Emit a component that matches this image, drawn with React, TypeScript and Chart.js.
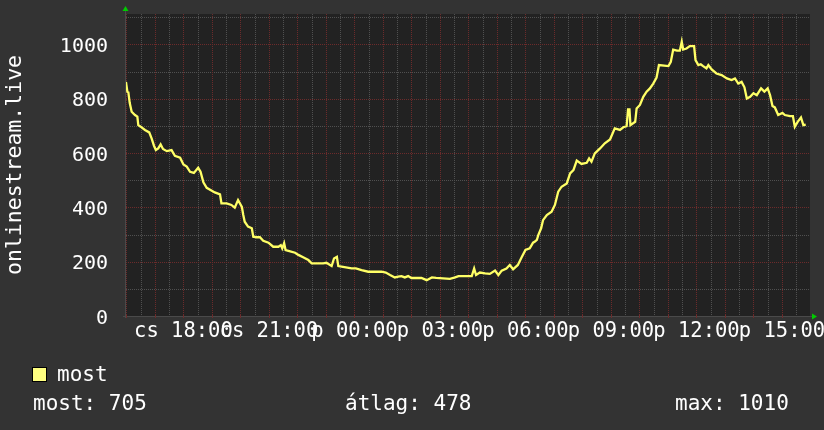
import React, { useEffect, useRef } from "react";
import { Chart, registerables } from "chart.js";

Chart.register(...registerables);

// Time axis: minutes relative to "cs 18:00" (Thursday 18:00)
const BASE_MINUTE = 18 * 60;
const DAY_PREFIXES = ["cs", "p"];
const X_START_OFFSET = -123;
const X_END_OFFSET = 1319;

const minuteOffsets = [
  -121, -118, -116, -113, -109, -102, -97, -95, -90, -81, -72, -67, -62, -58, -53, -48, -43, -35, -25, -18,
  -7, 0, 7, 14, 22, 31, 36, 42, 49, 57, 66, 77, 80, 91, 101, 108, 115, 123, 126, 129,
  136, 144, 147, 154, 161, 168, 179, 189, 200, 205, 208, 212, 215, 221, 235, 242, 252, 263, 270, 294,
  301, 312, 317, 323, 326, 336, 354, 363, 375, 389, 417, 426, 435, 445, 452, 459, 466, 473, 480, 501,
  512, 523, 532, 561, 572, 579, 607, 612, 616, 624, 635, 645, 656, 663, 670, 680, 687, 694, 704, 712,
  720, 729, 736, 740, 744, 747, 753, 757, 765, 775, 782, 789, 796, 807, 814, 821, 828, 838, 849, 854,
  859, 866, 877, 887, 898, 908, 919, 926, 933, 936, 939, 941, 951, 954, 961, 968, 975, 982, 989, 996,
  1001, 1021, 1026, 1031, 1039, 1045, 1049, 1052, 1059, 1066, 1075, 1078, 1084, 1089, 1094, 1101, 1105, 1112, 1122, 1133,
  1144, 1154, 1161, 1168, 1175, 1181, 1186, 1193, 1200, 1207, 1216, 1223, 1230, 1235, 1240, 1245, 1252, 1261, 1266, 1277,
  1283, 1287, 1293, 1300, 1305, 1310,
];

const viewerCounts = [
  862, 826, 824, 784, 752, 740, 734, 703, 697, 685, 676, 654, 627, 611, 617, 632, 615, 607, 611, 590,
  583, 558, 550, 531, 527, 546, 531, 492, 472, 464, 455, 448, 415, 415, 409, 399, 427, 402, 372, 347,
  329, 323, 292, 290, 290, 277, 270, 255, 255, 261, 249, 268, 243, 240, 233, 225, 216, 206, 194, 194,
  196, 184, 212, 218, 184, 181, 175, 175, 169, 163, 163, 160, 151, 142, 145, 147, 142, 147, 140, 140,
  132, 142, 140, 137, 142, 147, 147, 175, 151, 160, 157, 155, 167, 151, 167, 175, 188, 172, 188, 216,
  243, 249, 270, 274, 280, 298, 323, 353, 372, 384, 409, 458, 476, 488, 525, 537, 572, 560, 564, 580,
  568, 599, 617, 636, 650, 691, 685, 695, 699, 761, 761, 703, 715, 764, 777, 807, 826, 838, 856, 878,
  924, 920, 936, 981, 977, 977, 1010, 981, 985, 994, 994, 942, 924, 927, 920, 912, 924, 908, 893, 887,
  875, 869, 875, 856, 862, 842, 801, 807, 820, 813, 838, 826, 838, 813, 773, 768, 740, 748, 740, 736,
  736, 697, 715, 731, 703, 705,
];

const Y_MAX = 1112;
const Y_STEP = 100;
const Y_LABEL_STEP = 200;
const yTickLabels = [0, 200, 400, 600, 800, 1000];
const X_STEP = 30;
const X_MAJOR_STEP = 60;
const X_LABEL_STEP = 180;
const AXIS_TITLE = "onlinestream.live";
const LEGEND_LABEL = "most";
const statNames = ["most", "átlag", "max"];
const statValues = [705, 478, 1010];

const FONT = "'DejaVu Sans Mono', 'Liberation Mono', monospace";
const OUTER_BG = "#333333";
const PLOT_BG = "#222222";
const MAJOR_GRID = "#6c2b2b";
const MINOR_GRID = "#505050";
const LINE_COLOR = "#ffff66";
const LEGEND_COLOR = "#ffff80";
const TEXT_COLOR = "#ffffff";
const ARROW_COLOR = "#00cc00";

function formatTime(v: number): string {
  const day = Math.floor(v / 1440);
  const hh = Math.round((v % 1440) / 60);
  return `${DAY_PREFIXES[day] ?? ""} ${String(hh).padStart(2, "0")}:00`;
}

const decorPlugin = {
  id: "rrdDecor",
  beforeDraw(chart: any) {
    const { ctx, chartArea } = chart;
    ctx.save();
    ctx.fillStyle = OUTER_BG;
    ctx.fillRect(0, 0, chart.width, chart.height);
    ctx.fillStyle = PLOT_BG;
    ctx.fillRect(chartArea.left, chartArea.top, chartArea.right - chartArea.left, chartArea.bottom - chartArea.top);
    ctx.restore();
  },
  beforeDatasetsDraw(chart: any) {
    const { ctx, chartArea } = chart;
    const { left, right, top, bottom } = chartArea;
    const xs = chart.scales.x;
    const ys = chart.scales.y;
    ctx.save();
    // dotted grid (minor first, then major on top)
    const drawV = (px: number, color: string) => {
      ctx.fillStyle = color;
      const x = Math.round(px);
      for (let y = Math.ceil(top); y < bottom; y += 2) ctx.fillRect(x, y, 1, 1);
    };
    const drawH = (py: number, color: string) => {
      ctx.fillStyle = color;
      const y = Math.round(py);
      for (let x = Math.ceil(left) + 1; x < right; x += 2) ctx.fillRect(x, y, 1, 1);
    };
    xs.ticks.forEach((t: any) => {
      if (t.value % X_MAJOR_STEP !== 0) drawV(xs.getPixelForValue(t.value), MINOR_GRID);
    });
    ys.ticks.forEach((t: any) => {
      if (t.value % Y_LABEL_STEP !== 0) drawH(ys.getPixelForValue(t.value), MINOR_GRID);
    });
    xs.ticks.forEach((t: any) => {
      if (t.value % X_MAJOR_STEP === 0) drawV(xs.getPixelForValue(t.value), MAJOR_GRID);
    });
    ys.ticks.forEach((t: any) => {
      if (t.value % Y_LABEL_STEP === 0 && t.value > 0) drawH(ys.getPixelForValue(t.value), MAJOR_GRID);
    });
    ctx.restore();
  },
  afterDraw(chart: any) {
    const { ctx, chartArea } = chart;
    const { left, right, top, bottom } = chartArea;
    const xs = chart.scales.x;
    const ys = chart.scales.y;
    ctx.save();
    // axis lines
    ctx.strokeStyle = "#4a4a4a";
    ctx.lineWidth = 1;
    ctx.beginPath();
    ctx.moveTo(left + 0.5, top - 4);
    ctx.lineTo(left + 0.5, bottom + 2);
    ctx.moveTo(left - 2, bottom + 0.5);
    ctx.lineTo(right + 2, bottom + 0.5);
    ctx.stroke();
    // major tick marks across the x axis
    ctx.fillStyle = MAJOR_GRID;
    xs.ticks.forEach((t: any) => {
      if (t.value % X_MAJOR_STEP === 0) ctx.fillRect(Math.round(xs.getPixelForValue(t.value)), bottom - 2, 1, 4);
    });
    // arrows
    ctx.fillStyle = ARROW_COLOR;
    ctx.beginPath();
    ctx.moveTo(left - 2.5, top - 3);
    ctx.lineTo(left + 3.5, top - 3);
    ctx.lineTo(left + 0.5, top - 8);
    ctx.closePath();
    ctx.fill();
    ctx.beginPath();
    ctx.moveTo(right + 2, bottom - 2.5);
    ctx.lineTo(right + 2, bottom + 3.5);
    ctx.lineTo(right + 7, bottom + 0.5);
    ctx.closePath();
    ctx.fill();

    ctx.fillStyle = TEXT_COLOR;
    ctx.textBaseline = "alphabetic";

    // y tick labels
    ctx.font = `20px ${FONT}`;
    ctx.textAlign = "right";
    yTickLabels.forEach((v) => {
      ctx.fillText(String(v), left - 17, ys.getPixelForValue(v) + 7.5);
    });

    // x tick labels
    ctx.font = `20.5px ${FONT}`;
    ctx.textAlign = "center";
    xs.ticks.forEach((t: any) => {
      if (t.value % X_LABEL_STEP === 0) {
        ctx.fillText(formatTime(t.value), xs.getPixelForValue(t.value), bottom + 21);
      }
    });

    // axis title
    ctx.font = `21.5px ${FONT}`;
    ctx.save();
    ctx.translate(21, 165);
    ctx.rotate(-Math.PI / 2);
    ctx.textAlign = "center";
    ctx.fillText(AXIS_TITLE, 0, 0);
    ctx.restore();

    // legend
    ctx.fillStyle = LEGEND_COLOR;
    ctx.fillRect(32, 367, 14, 14);
    ctx.strokeStyle = "#000000";
    ctx.lineWidth = 1;
    ctx.strokeRect(32.5, 367.5, 14, 14);
    ctx.fillStyle = TEXT_COLOR;
    ctx.textAlign = "left";
    ctx.font = `21px ${FONT}`;
    ctx.fillText(LEGEND_LABEL, 57, 381);

    // stats
    const statX = [33, 345, 675];
    statNames.forEach((n, i) => {
      ctx.fillText(`${n}: ${statValues[i]}`, statX[i], 410);
    });
    ctx.restore();
  },
};

export default function App() {
  const canvasRef = useRef<HTMLCanvasElement | null>(null);

  useEffect(() => {
    document.body.style.margin = "0";
    const canvas = canvasRef.current;
    if (!canvas) return;
    const points = minuteOffsets.map((m, i) => ({ x: BASE_MINUTE + m, y: viewerCounts[i] }));
    const chart = new Chart(canvas, {
      type: "line",
      data: {
        datasets: [
          {
            label: LEGEND_LABEL,
            data: points,
            borderColor: LINE_COLOR,
            borderWidth: 2.3,
            pointRadius: 0,
            tension: 0,
            fill: false,
          },
        ],
      },
      options: {
        animation: false,
        responsive: false,
        maintainAspectRatio: false,
        layout: { padding: { left: 0, top: 14, right: 14, bottom: 0 } },
        plugins: { legend: { display: false }, tooltip: { enabled: false }, title: { display: false } },
        scales: {
          x: {
            type: "linear",
            min: BASE_MINUTE + X_START_OFFSET,
            max: BASE_MINUTE + X_END_OFFSET,
            afterFit: (s: any) => {
              s.height = 114;
            },
            grid: { display: false },
            border: { display: false },
            ticks: {
              display: false,
              stepSize: X_STEP,
              includeBounds: false,
              autoSkip: false,
            },
          },
          y: {
            min: 0,
            max: Y_MAX,
            afterFit: (s: any) => {
              s.width = 125;
            },
            grid: { display: false },
            border: { display: false },
            ticks: {
              display: false,
              stepSize: Y_STEP,
              includeBounds: false,
              autoSkip: false,
            },
          },
        },
      },
      plugins: [decorPlugin],
    });
    return () => chart.destroy();
  }, []);

  return <canvas ref={canvasRef} width={824} height={430} style={{ display: "block" }} />;
}
